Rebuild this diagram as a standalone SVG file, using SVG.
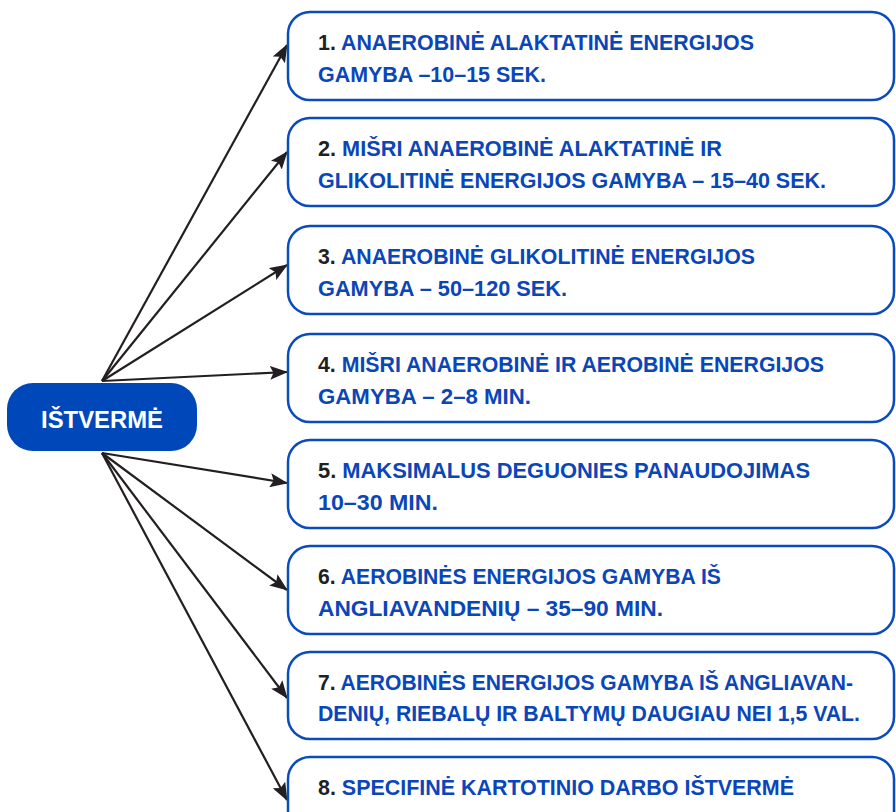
<svg xmlns="http://www.w3.org/2000/svg" width="896" height="812" viewBox="0 0 896 812">
<style>
.box{fill:#ffffff;stroke:#0a4bbd;stroke-width:2.5}
.t{font-family:"Liberation Sans",Arial,sans-serif;font-weight:bold;font-size:22.5px;fill:#0a46b8}
.n{fill:#231f20}
.c{stroke:#231f20;stroke-width:2.2;fill:none;marker-end:url(#ah)}
</style>
<defs>
<marker id="ah" markerUnits="userSpaceOnUse" markerWidth="18" markerHeight="14" refX="17" refY="7" orient="auto">
<path d="M0,0 L18,7 L0,14 L3.5,7 Z" fill="#231f20"/>
</marker>
</defs>
<rect width="896" height="812" fill="#ffffff"/>
<g id="connectors">
<line class="c" x1="102" y1="381" x2="287" y2="45"/>
<line class="c" x1="102" y1="381" x2="287" y2="152"/>
<line class="c" x1="102" y1="381" x2="287" y2="265"/>
<line class="c" x1="102" y1="381" x2="287" y2="372"/>
<line class="c" x1="102" y1="453" x2="287" y2="483"/>
<line class="c" x1="102" y1="453" x2="287" y2="590"/>
<line class="c" x1="102" y1="453" x2="287" y2="698"/>
<line class="c" x1="102" y1="453" x2="287" y2="800"/>
</g>
<g id="root">
<rect x="7" y="383" width="190" height="68" rx="26" fill="#0047ba"/>
<text x="102" y="428" text-anchor="middle" font-family="'Liberation Sans',Arial,sans-serif" font-weight="bold" font-size="24" fill="#ffffff" textLength="122" lengthAdjust="spacingAndGlyphs">IŠTVERMĖ</text>
</g>
<g id="n1">
<rect class="box" x="288" y="12" width="606" height="88" rx="22"/>
<text class="t" x="318" y="50" textLength="436" lengthAdjust="spacingAndGlyphs"><tspan class="n">1.</tspan> ANAEROBINĖ ALAKTATINĖ ENERGIJOS</text>
<text class="t" x="318" y="82" textLength="228" lengthAdjust="spacingAndGlyphs">GAMYBA –10–15 SEK.</text>
</g>
<g id="n2">
<rect class="box" x="288" y="118" width="606" height="88" rx="22"/>
<text class="t" x="318" y="156" textLength="404" lengthAdjust="spacingAndGlyphs"><tspan class="n">2.</tspan> MIŠRI ANAEROBINĖ ALAKTATINĖ IR</text>
<text class="t" x="318" y="188" textLength="508" lengthAdjust="spacingAndGlyphs">GLIKOLITINĖ ENERGIJOS GAMYBA – 15–40 SEK.</text>
</g>
<g id="n3">
<rect class="box" x="288" y="226" width="606" height="88" rx="22"/>
<text class="t" x="318" y="264" textLength="437" lengthAdjust="spacingAndGlyphs"><tspan class="n">3.</tspan> ANAEROBINĖ GLIKOLITINĖ ENERGIJOS</text>
<text class="t" x="318" y="296" textLength="249" lengthAdjust="spacingAndGlyphs">GAMYBA – 50–120 SEK.</text>
</g>
<g id="n4">
<rect class="box" x="288" y="334" width="606" height="88" rx="22"/>
<text class="t" x="318" y="372" textLength="506" lengthAdjust="spacingAndGlyphs"><tspan class="n">4.</tspan> MIŠRI ANAEROBINĖ IR AEROBINĖ ENERGIJOS</text>
<text class="t" x="318" y="404" textLength="213" lengthAdjust="spacingAndGlyphs">GAMYBA – 2–8 MIN.</text>
</g>
<g id="n5">
<rect class="box" x="288" y="440" width="606" height="88" rx="22"/>
<text class="t" x="318" y="478" textLength="492" lengthAdjust="spacingAndGlyphs"><tspan class="n">5.</tspan> MAKSIMALUS DEGUONIES PANAUDOJIMAS</text>
<text class="t" x="318" y="510" textLength="120" lengthAdjust="spacingAndGlyphs">10–30 MIN.</text>
</g>
<g id="n6">
<rect class="box" x="288" y="546" width="606" height="88" rx="22"/>
<text class="t" x="318" y="584" textLength="403" lengthAdjust="spacingAndGlyphs"><tspan class="n">6.</tspan> AEROBINĖS ENERGIJOS GAMYBA IŠ</text>
<text class="t" x="318" y="616" textLength="345" lengthAdjust="spacingAndGlyphs">ANGLIAVANDENIŲ – 35–90 MIN.</text>
</g>
<g id="n7">
<rect class="box" x="288" y="652" width="606" height="87" rx="22"/>
<text class="t" x="318" y="690" textLength="535" lengthAdjust="spacingAndGlyphs"><tspan class="n">7.</tspan> AEROBINĖS ENERGIJOS GAMYBA IŠ ANGLIAVAN-</text>
<text class="t" x="318" y="721" textLength="542" lengthAdjust="spacingAndGlyphs">DENIŲ, RIEBALŲ IR BALTYMŲ DAUGIAU NEI 1,5 VAL.</text>
</g>
<g id="n8">
<rect class="box" x="288" y="757" width="606" height="88" rx="22"/>
<text class="t" x="318" y="795" textLength="476" lengthAdjust="spacingAndGlyphs"><tspan class="n">8.</tspan> SPECIFINĖ KARTOTINIO DARBO IŠTVERMĖ</text>
</g>
</svg>
